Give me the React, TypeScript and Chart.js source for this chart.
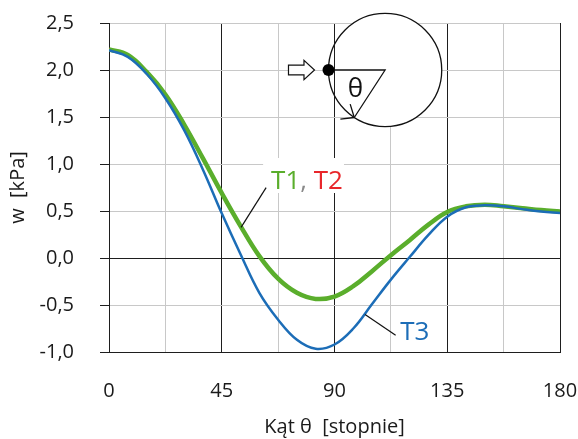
import React, { useEffect, useRef } from "react";
import { Chart, registerables } from "chart.js";

Chart.register(...registerables);

// ---- data (angle in degrees, pressure in kPa) ----
const angles = [0, 7.5, 15, 22.5, 30, 37.5, 45, 52.5, 60, 67.5, 75, 82.5, 90, 97.5, 105, 112.5, 120, 127.5, 135, 142.5, 150, 157.5, 165, 172.5, 180];

const t1Values = [2.22, 2.16, 1.98, 1.74, 1.42, 1.06, 0.69, 0.34, 0.02, -0.22, -0.37, -0.435, -0.41, -0.3, -0.14, 0.03, 0.19, 0.355, 0.49, 0.55, 0.567, 0.55, 0.53, 0.51, 0.495];

const t2Values = [2.22, 2.16, 1.98, 1.74, 1.42, 1.06, 0.69, 0.34, 0.02, -0.22, -0.37, -0.435, -0.41, -0.3, -0.14, 0.03, 0.19, 0.355, 0.49, 0.55, 0.567, 0.55, 0.53, 0.51, 0.495];

const t3Values = [2.21, 2.14, 1.96, 1.7, 1.36, 0.94, 0.475, 0.04, -0.37, -0.656, -0.87, -0.965, -0.92, -0.75, -0.49, -0.23, 0.01, 0.245, 0.44, 0.54, 0.56, 0.55, 0.52, 0.495, 0.48];

const xMin = 0;
const xMax = 180;
const xStep = 22.5;
const xLabelStep = 45;
const yMin = -1;
const yMax = 2.5;
const yStep = 0.5;

const xTitle = "Kąt θ  [stopnie]";
const yTitle = "w  [kPa]";
const label12a = "T1";
const label12sep = ", ";
const label12b = "T2";
const label3 = "T3";
const thetaLabel = "θ";

const FONT = '"Open Sans", "Noto Sans", sans-serif';
const DARK = "#1e1e1e";
const GRAY = "#c8c8c8";
const TEXT = "#1a1a1a";
const GREEN = "#5aae2c";
const RED = "#e8262b";
const BLUE = "#1c6db7";

const toPoints = (xs: number[], ys: number[]) => xs.map((x, i) => ({ x, y: ys[i] }));

const align = (p: number) => Math.round(p - 0.5) + 0.5;

const zeroPadding = (s: any) => {
  s.paddingTop = 0;
  s.paddingBottom = 0;
  s.paddingLeft = 0;
  s.paddingRight = 0;
};

const annotationPlugin = {
  id: "annotations",
  afterDraw(chart: any) {
    const ctx: CanvasRenderingContext2D = chart.ctx;
    const xs = chart.scales.x;
    const ys = chart.scales.y;
    const px = (v: number) => xs.getPixelForValue(v);
    const py = (v: number) => ys.getPixelForValue(v);
    const area = chart.chartArea;
    ctx.save();

    // ---- inset circle ----
    const cx = px(110.2);
    const cy = py(2.0);
    const r = px(22.6) - px(0);
    ctx.beginPath();
    ctx.arc(cx, cy, r, 0, Math.PI * 2);
    ctx.fillStyle = "#ffffff";
    ctx.fill();
    // major 90° gridline shows through the circle
    ctx.save();
    ctx.clip();
    ctx.beginPath();
    const x90 = align(px(90));
    ctx.moveTo(x90, area.top);
    ctx.lineTo(x90, area.bottom);
    ctx.strokeStyle = DARK;
    ctx.lineWidth = 1;
    ctx.stroke();
    ctx.restore();

    ctx.beginPath();
    ctx.arc(cx, cy, r, 0, Math.PI * 2);
    ctx.strokeStyle = "#111";
    ctx.lineWidth = 1.3;
    ctx.stroke();

    // radius lines
    const ang = (123 * Math.PI) / 180;
    const pxE = cx + r * Math.cos(ang);
    const pyE = cy + r * Math.sin(ang);
    ctx.beginPath();
    ctx.moveTo(cx - r, cy);
    ctx.lineTo(cx, cy);
    ctx.lineTo(pxE, pyE);
    ctx.lineWidth = 1.3;
    ctx.stroke();

    // arrowhead along arc
    const bx = -Math.sin(ang);
    const by = Math.cos(ang);
    const wing = 14;
    const spread = (40 * Math.PI) / 180;
    ctx.beginPath();
    for (const s of [spread, -spread]) {
      const wx = bx * Math.cos(s) - by * Math.sin(s);
      const wy = bx * Math.sin(s) + by * Math.cos(s);
      ctx.moveTo(pxE, pyE);
      ctx.lineTo(pxE + wx * wing, pyE + wy * wing);
    }
    ctx.stroke();

    // dot
    ctx.beginPath();
    ctx.arc(cx - r, cy, 6, 0, Math.PI * 2);
    ctx.fillStyle = "#000";
    ctx.fill();

    // theta
    ctx.font = `26px ${FONT}`;
    ctx.fillStyle = "#111";
    ctx.textAlign = "center";
    ctx.textBaseline = "alphabetic";
    ctx.fillText(thetaLabel, cx - 29.7, cy + 27);

    // hollow arrow pointing at the dot
    const tipX = cx - r - 14;
    const tailX = tipX - 26;
    const baseX = tipX - 10.5;
    ctx.beginPath();
    ctx.moveTo(tailX, cy - 4.8);
    ctx.lineTo(baseX, cy - 4.8);
    ctx.lineTo(baseX, cy - 9.6);
    ctx.lineTo(tipX, cy);
    ctx.lineTo(baseX, cy + 9.6);
    ctx.lineTo(baseX, cy + 4.8);
    ctx.lineTo(tailX, cy + 4.8);
    ctx.closePath();
    ctx.fillStyle = "#fff";
    ctx.fill();
    ctx.lineWidth = 1.2;
    ctx.strokeStyle = "#111";
    ctx.stroke();

    // ---- T1, T2 label ----
    ctx.font = `26px ${FONT}`;
    ctx.textAlign = "left";
    ctx.textBaseline = "alphabetic";
    const lx = px(64.7);
    const ly = py(0.734);
    const wA = ctx.measureText(label12a).width;
    const wS = ctx.measureText(label12sep).width;
    const wB = ctx.measureText(label12b).width;
    ctx.fillStyle = "#fff";
    ctx.fillRect(lx - 8, ly - 31, wA + wS + wB + 9, 35);
    ctx.fillStyle = GREEN;
    ctx.fillText(label12a, lx, ly);
    ctx.fillStyle = "#8a8a8a";
    ctx.fillText(label12sep, lx + wA, ly);
    ctx.fillStyle = RED;
    ctx.fillText(label12b, lx + wA + wS, ly);

    ctx.beginPath();
    ctx.moveTo(px(62.7), py(0.748));
    ctx.lineTo(px(52.7), py(0.326));
    ctx.strokeStyle = "#111";
    ctx.lineWidth = 1.2;
    ctx.stroke();

    // ---- T3 label ----
    ctx.fillStyle = BLUE;
    ctx.fillText(label3, px(116.2), py(-0.871));
    ctx.beginPath();
    ctx.moveTo(px(102.2), py(-0.6));
    ctx.lineTo(px(114.4), py(-0.823));
    ctx.stroke();

    ctx.restore();
  },
};

export default function App() {
  const ref = useRef<HTMLCanvasElement | null>(null);

  useEffect(() => {
    if (!ref.current) return;
    const tickFont = { family: FONT, size: 20 };
    const chart = new Chart(ref.current, {
      type: "line",
      data: {
        datasets: [
          {
            label: "T3",
            data: toPoints(angles, t3Values),
            borderColor: BLUE,
            borderWidth: 2.5,
            pointRadius: 0,
            tension: 0.4,
            order: 0,
          },
          {
            label: "T1",
            data: toPoints(angles, t1Values),
            borderColor: GREEN,
            borderWidth: 4.5,
            pointRadius: 0,
            borderCapStyle: "butt",
            tension: 0.4,
            order: 1,
          },
          {
            label: "T2",
            data: toPoints(angles, t2Values),
            borderColor: RED,
            borderWidth: 3,
            pointRadius: 0,
            borderCapStyle: "round",
            tension: 0.4,
            order: 2,
          },
        ],
      },
      options: {
        animation: false,
        responsive: false,
        devicePixelRatio: 1,
        layout: { padding: { top: 23, right: 18, left: 0, bottom: 0 } },
        plugins: { legend: { display: false }, tooltip: { enabled: false } },
        scales: {
          x: {
            type: "linear",
            min: xMin,
            max: xMax,
            ticks: {
              stepSize: xStep,
              autoSkip: false,
              maxRotation: 0,
              padding: 27,
              color: TEXT,
              font: tickFont,
              callback: (v: any) => (Number(v) % xLabelStep === 0 ? String(v) : ""),
            },
            grid: {
              color: (c: any) => (c.tick && c.tick.value % xLabelStep === 0 ? DARK : GRAY),
              drawTicks: false,
              lineWidth: 1,
            },
            border: { color: DARK, width: 1 },
            title: {
              display: true,
              text: xTitle,
              color: TEXT,
              font: tickFont,
              padding: { top: 0, bottom: 0 },
            },
            afterFit: (s: any) => {
              s.height = 87;
              zeroPadding(s);
            },
          },
          y: {
            type: "linear",
            min: yMin,
            max: yMax,
            ticks: {
              stepSize: yStep,
              padding: 26,
              color: TEXT,
              font: tickFont,
              callback: (v: any) => Number(v).toFixed(1).replace(".", ","),
            },
            grid: {
              color: (c: any) =>
                c.tick && (c.tick.value === 0 || c.tick.value === yMin) ? DARK : GRAY,
              tickColor: DARK,
              tickLength: 9,
              lineWidth: 1,
            },
            border: { color: DARK, width: 1 },
            title: {
              display: true,
              text: yTitle,
              color: TEXT,
              font: tickFont,
              padding: { top: 6, bottom: 0 },
            },
            afterFit: (s: any) => {
              s.width = 109;
              zeroPadding(s);
            },
          },
        },
      },
      plugins: [annotationPlugin],
    } as any);
    return () => chart.destroy();
  }, []);

  return (
    <div style={{ position: "fixed", left: 0, top: 0, width: 578, height: 439, background: "#fff" }}>
      <canvas ref={ref} width={578} height={439} style={{ display: "block" }} />
    </div>
  );
}
